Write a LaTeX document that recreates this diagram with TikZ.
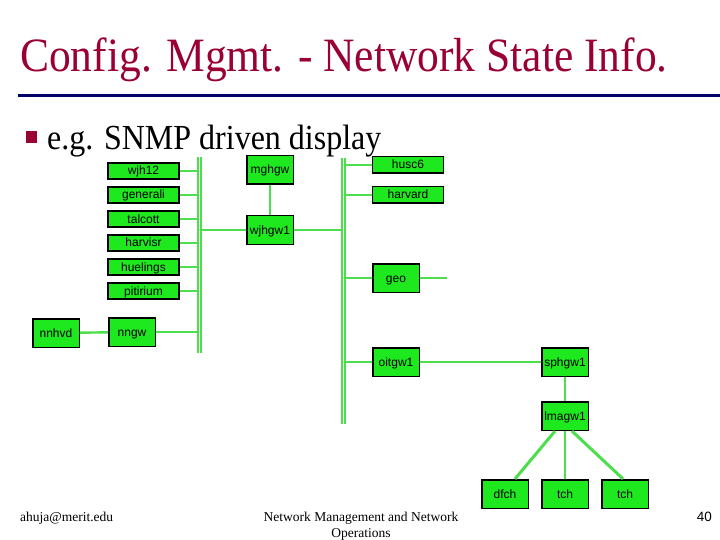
\documentclass[tikz,border=0pt]{standalone}
\usepackage{fontspec}
\setmainfont{Liberation Serif}
\setsansfont{Liberation Sans}
\usepackage{xcolor}
\usepackage{tikz}
\definecolor{boxgreen}{RGB}{30,232,30}
\definecolor{wiregreen}{RGB}{76,222,76}
\definecolor{titlered}{RGB}{153,0,51}
\definecolor{rulenavy}{RGB}{0,0,102}

\begin{document}
\begin{tikzpicture}[x=1pt, y=-1pt,
  host/.style={draw=black, line width=1.6pt, fill=boxgreen, inner sep=0pt,
    font=\sffamily\fontsize{12}{12}\selectfont, text height=9.5pt, text depth=1.5pt,
    minimum width=71pt, minimum height=16pt},
  gw/.style={host, minimum width=46.6pt, minimum height=28.6pt},
  wire/.style={wiregreen, line width=2.4pt},
  bus/.style={wiregreen, line width=1.8pt, double=white, double distance=1.6pt}]
\useasboundingbox (0,0) rectangle (720,540);

\node [anchor=base west, inner sep=0pt, text=titlered, font=\fontsize{43.5}{43.5}\selectfont]
    (title) at (20,72) {\scalebox{1}[1.1]{Config. Mgmt. - Network State Info.}};
\coordinate (ruleL) at (18,96);
\coordinate (ruleR) at (720,96);
\draw [rulenavy, line width=3pt] (ruleL) -- (ruleR);
\fill [titlered] (26,131) rectangle (37,143);
\node [anchor=base west, inner sep=0pt, font=\fontsize{32}{32}\selectfont]
    (point) at (47,150) {\scalebox{1}[1.1]{e.g. SNMP driven display}};

\node [host] (wjh12) at (143.5,171) {wjh12};
\node [host] (generali) at (143.5,195) {generali};
\node [host] (talcott) at (143.5,219) {talcott};
\node [host] (harvisr) at (143.5,243) {harvisr};
\node [host] (huelings) at (143.5,267) {huelings};
\node [host] (pitirium) at (143.5,291) {pitirium};
\node [gw] (nnhvd) at (56,333) {nnhvd};
\node [gw] (nngw) at (132,332) {nngw};
\node [gw] (mghgw) at (270,170) {mghgw};
\node [gw] (wjhgw1) at (270,230) {wjhgw1};
\node [host, minimum height=16.6pt] (husc6) at (408,165) {husc6};
\node [host, minimum height=16.6pt] (harvard) at (408,195) {harvard};
\node [gw] (geo) at (396,278) {geo};
\node [gw] (oitgw1) at (396,362) {oitgw1};
\node [gw] (sphgw1) at (565,362) {sphgw1};
\node [gw] (lmagw1) at (565,416) {lmagw1};
\node [gw] (dfch) at (505,494) {dfch};
\node [gw] (tchA) at (565,494) {tch};
\node [gw] (tchB) at (625,494) {tch};

\coordinate (bus1top) at (199.3,157);
\coordinate (bus1bot) at (199.3,353);
\coordinate (bus2top) at (343.5,158);
\coordinate (bus2bot) at (343.5,424);
\coordinate (geoend) at (447,278);

\draw [wire] (wjh12) -- (wjh12 -| bus1top);
\draw [wire] (generali) -- (generali -| bus1top);
\draw [wire] (talcott) -- (talcott -| bus1top);
\draw [wire] (harvisr) -- (harvisr -| bus1top);
\draw [wire] (huelings) -- (huelings -| bus1top);
\draw [wire] (pitirium) -- (pitirium -| bus1top);
\draw [wire] (nnhvd) -- (nngw);
\draw [wire] (nngw) -- (nngw -| bus1top);
\draw [wire] (wjhgw1) -- (wjhgw1 -| bus1top);
\draw [wire] (mghgw) -- (wjhgw1);
\draw [wire] (wjhgw1) -- (wjhgw1 -| bus2top);
\draw [wire] (husc6) -- (husc6 -| bus2top);
\draw [wire] (harvard) -- (harvard -| bus2top);
\draw [wire] (geo) -- (geo -| bus2top);
\draw [wire] (geo) -- (geoend);
\draw [wire] (oitgw1) -- (oitgw1 -| bus2top);
\draw [wire] (oitgw1) -- (sphgw1);
\draw [wire] (sphgw1) -- (lmagw1);
\draw [wire, line width=3pt] ([xshift=-10pt]lmagw1.south) -- ([xshift=10pt]dfch.north);
\draw [wire] (lmagw1) -- (tchA);
\draw [wire, line width=3pt] ([xshift=7pt]lmagw1.south) -- ([xshift=-2pt]tchB.north);

\draw [bus] (bus1top) -- (bus1bot);
\draw [bus] (bus2top) -- (bus2bot);

\node [anchor=base west, inner sep=0pt, font=\fontsize{13.5}{13.5}\selectfont]
    (email) at (20,521) {ahuja@merit.edu};
\node [anchor=base, inner sep=0pt, align=center, font=\fontsize{13.5}{16}\selectfont]
    (course) at (361,537) {Network Management and Network\\Operations};
\node [anchor=base east, inner sep=0pt, font=\sffamily\fontsize{13.5}{13.5}\selectfont]
    (page) at (712,521) {40};
\end{tikzpicture}
\end{document}
